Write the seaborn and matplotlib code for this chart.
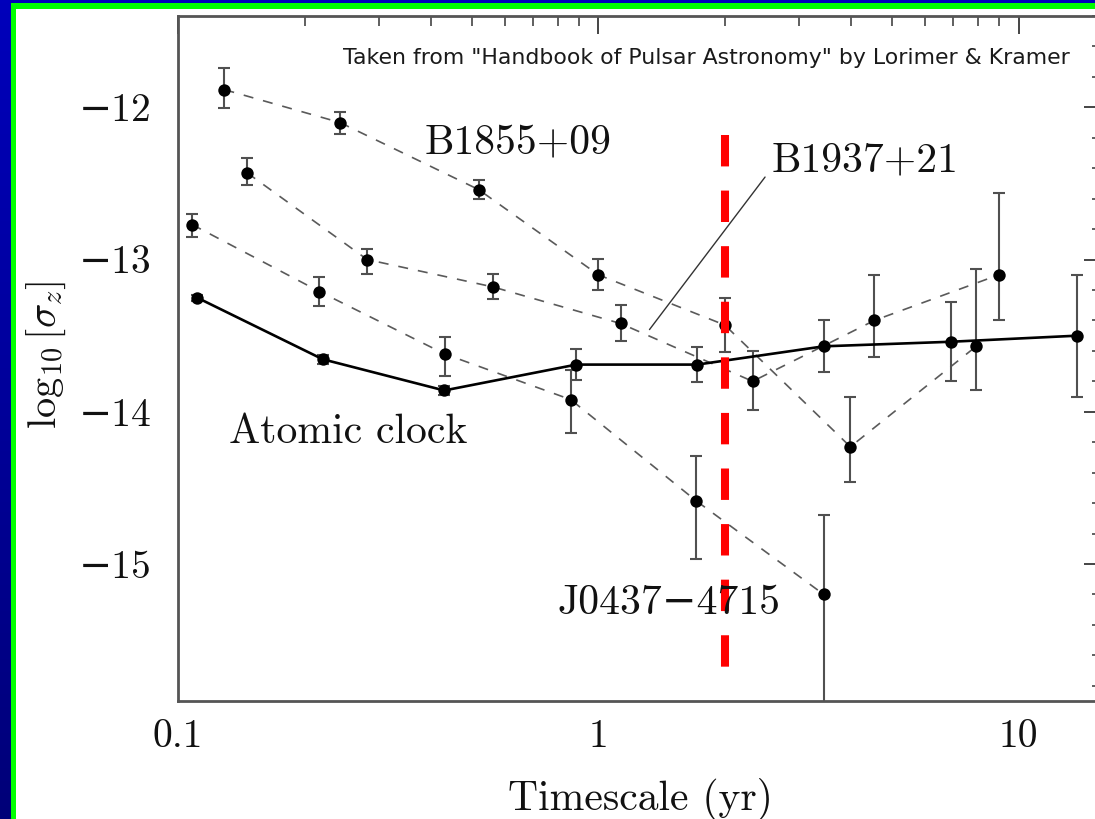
import numpy as np
import matplotlib
matplotlib.use("Agg")
import matplotlib.pyplot as plt
import seaborn as sns
from matplotlib.ticker import FixedLocator, MultipleLocator, LogLocator, NullFormatter
from matplotlib.colors import LinearSegmentedColormap
from matplotlib.patches import Rectangle

# ---------------- data ----------------
atomic_t = [0.111, 0.221, 0.43, 0.887, 1.72, 3.44, 6.9, 13.8]
atomic_s = [-13.25, -13.655, -13.86, -13.69, -13.69, -13.57, -13.54, -13.50]
atomic_err = [0.02, 0.03, 0.03, 0.10, 0.115, 0.17, 0.26, 0.40]

b1855_t = [0.129, 0.243, 0.519, 1.0, 2.0, 3.98, 7.93]
b1855_s = [-11.884, -12.10, -12.54, -13.10, -13.43, -14.23, -13.57]
b1855_lo = [0.12, 0.073, 0.065, 0.098, 0.177, 0.232, 0.290]
b1855_hi = [0.141, 0.069, 0.065, 0.105, 0.177, 0.329, 0.509]

b1937_t = [0.146, 0.282, 0.562, 1.13, 2.33, 4.54, 8.98]
b1937_s = [-12.43, -13.00, -13.18, -13.42, -13.80, -13.40, -13.10]
b1937_lo = [0.078, 0.092, 0.081, 0.115, 0.186, 0.242, 0.299]
b1937_hi = [0.096, 0.072, 0.083, 0.124, 0.196, 0.299, 0.537]

j0437_t = [0.108, 0.217, 0.431, 0.86, 1.71, 3.44]
j0437_s = [-12.77, -13.21, -13.62, -13.92, -14.585, -15.20]
j0437_lo = [0.085, 0.095, 0.142, 0.218, 0.38, 1.0]
j0437_hi = [0.072, 0.094, 0.113, 0.192, 0.295, 0.52]

x_ticks = [0.1, 1, 10]
x_tick_labels = ["0.1", "1", "10"]
y_ticks = [-15, -14, -13, -12]
y_tick_labels = ["\u221215", "\u221214", "\u221213", "\u221212"]

ref_timescale = 2.0

series_labels = {
    "B1855+09": (0.644, -12.236),
    "B1937+21": (2.59, -12.347),
    "Atomic clock": (0.2535, -14.135),
    "J0437\u22124715": (1.477, -15.255),
}
credit = "Taken from \"Handbook of Pulsar Astronomy\" by Lorimer & Kramer"

# ---------------- style ----------------
sns.set_theme(style="white")
plt.rcParams["font.family"] = ["cmr10", "DejaVu Serif"]
plt.rcParams["mathtext.fontset"] = "cm"
plt.rcParams["axes.unicode_minus"] = True

W, H = 1095, 819
fig = plt.figure(figsize=(W / 100, H / 100), dpi=100)

# background: blue gradient, green frame, white panel
bg = fig.add_axes([0, 0, 1, 1], zorder=-10)
grad = np.linspace(0, 1, 256).reshape(-1, 1)
cmap = LinearSegmentedColormap.from_list("bg", ["#0000bb", "#000078"])
bg.imshow(grad, aspect="auto", cmap=cmap, extent=[0, 1, 0, 1], origin="upper")
bg.add_patch(Rectangle((11 / W, 0), 1, 1 - 3 / H, facecolor="#00ff00", edgecolor="none"))
bg.add_patch(Rectangle((16 / W, 0), 1, 1 - 8.5 / H, facecolor="white", edgecolor="none"))
bg.set_xlim(0, 1)
bg.set_ylim(0, 1)
bg.set_axis_off()

ax = fig.add_axes([178 / W, 1 - 701 / H, (1102 - 178) / W, (701 - 16) / H])
ax.set_facecolor("white")
ax.set_xscale("log")
ax.set_xlim(0.1, 15.8)
ax.set_ylim(-15.9, -11.4)

dash_grey = "#5a5a5a"
bar_grey = "#505050"

# pulsar series: dashed connecting lines + error bars + dots
for t, s, lo, hi in [
    (b1855_t, b1855_s, b1855_lo, b1855_hi),
    (b1937_t, b1937_s, b1937_lo, b1937_hi),
    (j0437_t, j0437_s, j0437_lo, j0437_hi),
]:
    sns.lineplot(x=t, y=s, ax=ax, color=dash_grey, lw=1.2, linestyle=(0, (6, 6)),
                 estimator=None, sort=False, zorder=2)
    ax.errorbar(t, s, yerr=[lo, hi], fmt="none", ecolor=bar_grey, elinewidth=1.5,
                capsize=4.5, capthick=1.5, zorder=2.5)
    sns.scatterplot(x=t, y=s, ax=ax, color="black", s=80, edgecolor="black",
                    linewidth=0, zorder=4)

# atomic clock: solid line
sns.lineplot(x=atomic_t, y=atomic_s, ax=ax, color="black", lw=1.9,
             estimator=None, sort=False, zorder=3)
ax.errorbar(atomic_t, atomic_s, yerr=atomic_err, fmt="none", ecolor=bar_grey,
            elinewidth=1.5, capsize=4.5, capthick=1.5, zorder=2.5)
sns.scatterplot(x=atomic_t, y=atomic_s, ax=ax, color="black", s=80,
                edgecolor="black", linewidth=0, zorder=4)

# red reference line
ax.plot([ref_timescale, ref_timescale], [-12.18, -15.80], color="#ff0000", lw=5.8,
        linestyle=(0, (3.9, 3.0)), zorder=5)

# leader line for B1937+21
ax.plot([1.324, 2.494], [-13.46, -12.458], color="#333333", lw=1.0, zorder=3)

# labels
for name, (lx, ly) in series_labels.items():
    ha = "left" if name == "B1937+21" else "center"
    ax.text(lx, ly, name, fontsize=30, ha=ha, va="center", color="#111111", zorder=6)

ax.text(13.25, -11.673, credit, fontsize=15.8, ha="right", va="center",
        family="DejaVu Sans", color="#1a1a1a", zorder=6)

# axes, ticks
ax.xaxis.set_major_locator(FixedLocator(x_ticks))
ax.set_xticklabels(x_tick_labels)
ax.xaxis.set_minor_locator(LogLocator(base=10, subs=np.arange(2, 10)))
ax.xaxis.set_minor_formatter(NullFormatter())
ax.yaxis.set_major_locator(FixedLocator(y_ticks))
ax.set_yticklabels(y_tick_labels)
ax.yaxis.set_minor_locator(MultipleLocator(0.2))

ax.tick_params(which="major", direction="in", length=13, width=1.4, color="#444444",
               top=True, right=True, labelsize=28.5, labelcolor="#111111")
ax.tick_params(which="minor", direction="in", length=7, width=1.2, color="#444444",
               top=True, right=True)
ax.tick_params(axis="x", which="major", pad=13)
ax.tick_params(axis="y", which="major", pad=19)

for sp in ax.spines.values():
    sp.set_color("#555555")
    sp.set_linewidth(2.0)

ax.set_xlabel("Timescale (yr)", fontsize=30, color="#111111")
ax.xaxis.set_label_coords(0.5, -0.112)
ax.set_ylabel(r"$\log_{10}[\sigma_z]$", fontsize=29, color="#111111")
ax.yaxis.set_label_coords(-0.119, 0.505)

fig.savefig("out.png", dpi=100)
